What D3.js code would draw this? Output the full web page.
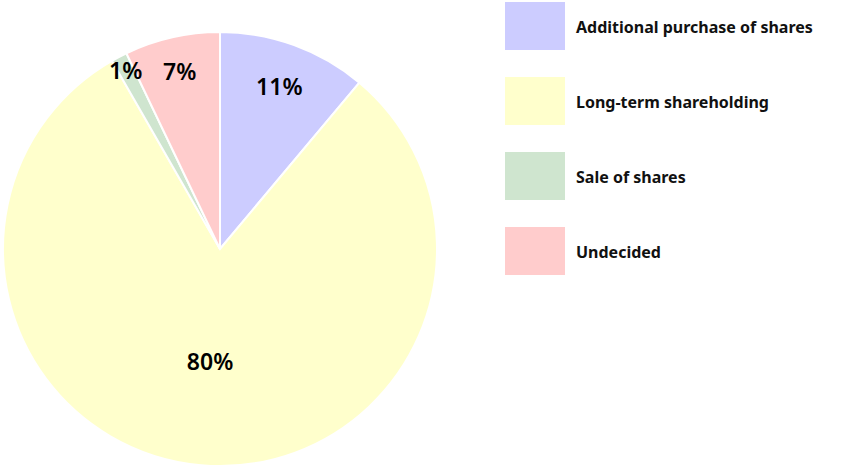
<!DOCTYPE html>
<html lang="en">
<head>
  <meta charset="UTF-8">
  <title>Share Intentions Pie</title>
  <script src="https://d3js.org/d3.v7.min.js"></script>
  <style>
    body {
      margin: 0;
      background: #fff;
      font-family: "Noto Sans", "DejaVu Sans", sans-serif;
    }
    .slice {
      stroke: #fff;
      stroke-width: 2;
    }
    .pct {
      font-size: 23px;
      font-weight: 600;
      fill: #000;
    }
    .legend-text {
      font-size: 16px;
      font-weight: 700;
      fill: #111;
    }
  </style>
</head>
<body>
  <div id="chart"></div>

  <script>
    const categories = ["Additional purchase of shares", "Long-term shareholding", "Sale of shares", "Undecided"];
    const values = [11.1, 80.6, 1.2, 7.1];
    const labels = ["11%", "80%", "1%", "7%"];
    const colors = ["#ccccff", "#ffffcc", "#cfe5cf", "#ffcccc"];

    const w = 850;
    const h = 470;
    const cx = 220;
    const cy = 249;
    const radius = 217;

    const svg = d3.select("#chart")
                  .append("svg")
                  .attr("width", w)
                  .attr("height", h);

    const dataset = categories.map((c, i) => ({ name: c, value: values[i], label: labels[i], color: colors[i] }));
    const total = d3.sum(values);

    const pie = d3.pie()
                  .sort(null)
                  .value(d => d.value);

    const arc = d3.arc()
                  .innerRadius(0)
                  .outerRadius(radius);

    const g = svg.append("g")
                 .attr("transform", `translate(${cx}, ${cy})`);

    const arcs = pie(dataset);

    g.selectAll(".slice")
     .data(arcs)
     .enter()
     .append("path")
     .attr("class", "slice")
     .attr("d", arc)
     .attr("fill", d => d.data.color);

    // small slices: label near the rim, big ones toward the middle
    g.selectAll(".pct")
     .data(arcs)
     .enter()
     .append("text")
     .attr("class", "pct")
     .attr("text-anchor", "middle")
     .attr("dominant-baseline", "central")
     .attr("transform", d => {
        const r = radius * Math.max(0.52, 1 - 0.6 * Math.sqrt(d.data.value / total));
        const pos = d3.arc().innerRadius(r).outerRadius(r).centroid(d);
        return `translate(${pos[0]}, ${pos[1]})`;
     })
     .text(d => d.data.label);

    const legendY = d3.scaleBand()
                      .domain(categories)
                      .range([2, 2 + 75 * categories.length])
                      .paddingInner(0);

    const legend = svg.selectAll(".legend")
                      .data(dataset)
                      .enter()
                      .append("g")
                      .attr("class", "legend")
                      .attr("transform", d => `translate(505, ${legendY(d.name)})`);

    legend.append("rect")
          .attr("width", 60)
          .attr("height", 48)
          .attr("fill", d => d.color);

    legend.append("text")
          .attr("class", "legend-text")
          .attr("x", 71)
          .attr("y", 25)
          .attr("dominant-baseline", "central")
          .text(d => d.name);
  </script>
</body>
</html>
